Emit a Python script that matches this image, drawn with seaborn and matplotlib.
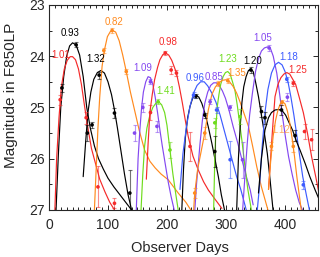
import numpy as np
import pandas as pd
import seaborn as sns
import matplotlib
matplotlib.use("Agg")
import matplotlib.pyplot as plt
from matplotlib.ticker import MultipleLocator

# fitted light curves (day, magnitude)
day_093 = [12, 16, 20, 25, 30, 35, 40, 46, 52, 58, 64, 70, 77, 84, 92, 100, 110, 120, 130, 140]
mag_093 = [27.0, 25.9, 25.0, 24.4, 24.0, 23.8, 23.74, 23.78, 23.98, 24.4, 25.0, 25.4, 25.75, 26.0, 26.2, 26.38, 26.55, 26.7, 26.85, 27.0]
day_101 = [10, 13, 17, 21, 26, 31, 36, 40, 45, 50, 55, 60, 66, 72, 79, 86, 95, 103, 111]
mag_101 = [27.0, 26.0, 25.2, 24.6, 24.25, 24.08, 24.01, 24.01, 24.07, 24.25, 24.55, 24.95, 25.4, 25.8, 26.1, 26.4, 26.65, 26.85, 27.0]
day_132 = [58, 62, 66, 71, 76, 82, 88, 94, 100, 106, 111, 116, 122, 128, 134, 140]
mag_132 = [26.35, 25.7, 25.1, 24.7, 24.45, 24.32, 24.28, 24.33, 24.5, 24.75, 25.05, 25.4, 25.85, 26.3, 26.7, 27.0]
day_082 = [77, 80, 83, 86, 90, 94, 99, 104, 108, 113, 119, 125, 131, 138, 145, 153, 162, 171, 180, 190, 202, 219, 232, 242]
mag_082 = [27.0, 26.2, 25.4, 24.8, 24.2, 23.88, 23.62, 23.52, 23.5, 23.53, 23.7, 23.98, 24.3, 24.7, 25.05, 25.45, 25.83, 26.05, 26.18, 26.3, 26.41, 26.67, 26.85, 27.03]
day_109 = [148, 151, 154, 157, 160, 164, 168, 172, 176, 180, 184, 188, 192, 197, 202, 207, 213]
mag_109 = [27.0, 26.0, 25.44, 25.0, 24.7, 24.5, 24.4, 24.42, 24.55, 24.8, 25.1, 25.44, 25.75, 26.1, 26.45, 26.74, 27.04]
day_141 = [156, 159, 162, 166, 171, 176, 181, 186, 191, 196, 200, 205, 210, 215, 219]
mag_141 = [27.0, 26.3, 25.76, 25.4, 25.15, 25.0, 24.92, 24.89, 24.95, 25.1, 25.35, 25.83, 26.3, 26.7, 27.0]
day_098 = [165, 168, 171, 175, 179, 184, 188, 193, 198, 203, 208, 212, 216, 221, 226, 231, 236, 244, 253, 262, 270, 282, 293]
mag_098 = [26.4, 25.7, 25.1, 24.75, 24.46, 24.22, 24.07, 23.97, 23.94, 23.98, 24.08, 24.2, 24.33, 24.6, 24.91, 25.25, 25.57, 25.95, 26.22, 26.45, 26.61, 26.8, 26.97]
day_k249 = [225, 228, 231, 235, 239, 244, 249, 254, 259, 264, 270, 276, 282, 287, 292, 298]
mag_k249 = [27.03, 26.2, 25.6, 25.2, 24.98, 24.8, 24.76, 24.8, 24.92, 25.1, 25.38, 25.7, 26.05, 26.35, 26.7, 27.03]
day_096 = [222, 227, 233, 239, 245, 251, 257, 263, 269, 276, 283, 290, 297, 304, 311, 318, 325, 335]
mag_096 = [26.6, 25.9, 25.37, 24.98, 24.72, 24.57, 24.5, 24.5, 24.58, 24.72, 24.9, 25.15, 25.45, 25.75, 26.05, 26.35, 26.6, 27.03]
day_085 = [247, 250, 253, 256, 260, 264, 269, 274, 279, 284, 289, 294, 299, 305, 312, 320, 327, 334, 341, 346]
mag_085 = [27.03, 26.5, 26.1, 25.7, 25.25, 24.92, 24.7, 24.57, 24.52, 24.52, 24.58, 24.68, 24.82, 25.05, 25.37, 25.7, 26.02, 26.33, 26.61, 26.9]
day_123 = [279, 281, 283, 285, 288, 291, 295, 299, 303, 307, 311, 315, 319, 323, 327, 332, 337, 343]
mag_123 = [27.03, 26.0, 25.4, 25.0, 24.75, 24.55, 24.4, 24.32, 24.3, 24.35, 24.5, 24.66, 24.95, 25.3, 25.65, 26.15, 26.6, 27.0]
day_135 = [245, 247, 252, 258, 264, 270, 276, 282, 288, 294, 300, 306, 312, 318, 324, 330, 338, 345, 352, 360, 372]
mag_135 = [27.03, 26.67, 26.2, 25.85, 25.5, 25.05, 24.75, 24.6, 24.52, 24.47, 24.46, 24.5, 24.59, 24.72, 24.9, 25.1, 25.37, 25.75, 26.15, 26.55, 27.04]
day_120 = [318, 321, 324, 327, 330, 334, 338, 342, 346, 350, 355, 360, 365, 370, 375, 380]
mag_120 = [27.03, 26.0, 25.37, 24.9, 24.6, 24.4, 24.28, 24.25, 24.3, 24.5, 24.79, 25.15, 25.5, 25.9, 26.45, 27.04]
day_105 = [328, 332, 336, 340, 345, 350, 355, 360, 365, 370, 375, 380, 386, 391, 396, 401, 406, 412, 418, 424, 431]
mag_105 = [27.03, 26.35, 25.7, 25.15, 24.7, 24.3, 24.05, 23.9, 23.84, 23.82, 23.84, 24.0, 24.33, 24.75, 25.2, 25.6, 25.96, 26.3, 26.61, 26.85, 27.04]
day_118 = [353, 357, 361, 366, 371, 377, 383, 389, 395, 400, 405, 410, 415, 420, 425, 430, 436, 442]
mag_118 = [27.0, 26.5, 25.8, 25.1, 24.65, 24.33, 24.17, 24.12, 24.17, 24.3, 24.5, 24.8, 25.15, 25.55, 25.96, 26.35, 26.7, 27.04]
day_125 = [372, 375, 379, 383, 388, 393, 398, 403, 408, 413, 418, 424, 431, 438, 445, 452, 458]
mag_125 = [26.6, 26.09, 25.4, 24.79, 24.55, 24.42, 24.35, 24.32, 24.35, 24.45, 24.55, 24.8, 25.1, 25.5, 25.96, 26.35, 26.7]
day_k389 = [355, 360, 366, 372, 377, 383, 389, 395, 401, 407, 413, 419, 426, 434, 442, 451, 458]
mag_k389 = [26.67, 26.0, 25.44, 25.2, 25.1, 25.05, 25.04, 25.06, 25.15, 25.3, 25.45, 25.65, 25.85, 26.09, 26.35, 26.61, 26.8]
day_112 = [372, 376, 380, 384, 388, 392, 396, 400, 404, 408, 412, 416, 420, 424, 428]
mag_112 = [26.6, 26.0, 25.55, 25.25, 25.05, 24.93, 24.89, 24.93, 25.07, 25.3, 25.6, 25.95, 26.35, 26.7, 27.04]

# photometry points with errors
pt_sn = ['0.93', '0.93', '0.93', '0.93', '1.32', '1.32', '1.32',
         '1.01', '1.01', '1.01', '1.01',
         '0.82', '0.82', '0.82',
         '1.09', '1.09', '1.09', '1.09',
         '1.41', '1.41',
         '0.98', '0.98', '0.98', '0.98', '0.98',
         'k249', 'k249', 'k249',
         '0.96', '0.96', '0.96',
         '0.85', '0.85', '0.85',
         '1.23', '1.23',
         '1.35', '1.35', '1.35', '1.35',
         '1.20', '1.20', '1.20',
         '1.05', '1.05',
         '1.18', '1.18',
         '1.25', '1.25', '1.25',
         'k389', 'k389',
         '1.12', '1.12', '1.12']
pt_day = [22, 46, 65, 73, 85, 111, 137,
          19, 63, 83, 111,
          93, 107, 131,
          145, 159, 172, 183,
          185, 205,
          172, 197, 207, 216, 239,
          249, 264, 281,
          245, 284, 307,
          273, 307, 328,
          281, 324,
          247, 264, 287, 303,
          342, 360, 366,
          373, 404,
          403, 431,
          414, 433, 445,
          394, 417,
          377, 395, 414]
pt_mag = [24.62, 23.78, 25.5, 25.34, 24.37, 25.11, 26.67,
          24.85, 25.2, 26.55, 26.87,
          23.89, 23.5, 24.3,
          25.5, 25.0, 24.5, 25.37,
          24.89, 25.83,
          25.1, 23.94, 24.27, 24.33, 25.76,
          24.78, 25.15, 25.86,
          24.76, 25.05, 26.02,
          24.89, 25.0, 26.02,
          25.3, 25.18,
          26.67, 25.5, 24.54, 24.48,
          24.27, 25.08, 25.2,
          23.84, 24.8,
          24.45, 26.51,
          24.53, 25.47, 25.63,
          25.05, 25.55,
          25.76, 24.9, 25.76]
pt_err = [0.08, 0.05, 0.15, 0.06, 0.07, 0.1, 0.44,
          0.1, 0.12, 0.4, 0.1,
          0.05, 0.04, 0.05,
          0.15, 0.08, 0.05, 0.1,
          0.05, 0.15,
          0.15, 0.04, 0.08, 0.06, 0.29,
          0.04, 0.05, 0.3,
          0.06, 0.05, 0.36,
          0.05, 0.05, 0.35,
          0.1, 0.15,
          0.1, 0.12, 0.05, 0.05,
          0.05, 0.1, 0.12,
          0.05, 0.08,
          0.05, 0.08,
          0.05, 0.15, 0.2,
          0.1, 0.1,
          0.08, 0.05, 0.1]

curves = {
    '0.93': (day_093, mag_093), '1.01': (day_101, mag_101), '1.32': (day_132, mag_132),
    '0.82': (day_082, mag_082), '1.09': (day_109, mag_109), '1.41': (day_141, mag_141),
    '0.98': (day_098, mag_098), 'k249': (day_k249, mag_k249), '0.96': (day_096, mag_096),
    '0.85': (day_085, mag_085), '1.23': (day_123, mag_123), '1.35': (day_135, mag_135),
    '1.20': (day_120, mag_120), '1.05': (day_105, mag_105), '1.18': (day_118, mag_118),
    '1.25': (day_125, mag_125), 'k389': (day_k389, mag_k389), '1.12': (day_112, mag_112),
}

RED, BLACK, ORANGE = '#f52a2a', '#000000', '#ff8a1e'
PURPLE, BLUE, GREEN = '#8448f0', '#3d5cff', '#6fdc1e'
colors = {'0.93': BLACK, '1.01': RED, '1.32': BLACK, '0.82': ORANGE, '1.09': PURPLE,
          '1.41': GREEN, '0.98': RED, 'k249': BLACK, '0.96': BLUE, '0.85': PURPLE,
          '1.23': GREEN, '1.35': ORANGE, '1.20': BLACK, '1.05': PURPLE, '1.18': BLUE,
          '1.25': RED, 'k389': BLACK, '1.12': ORANGE}
# label offsets from the curve peak, in points
offsets = {'0.93': (-2, 7), '1.01': (-7, 1.5), '1.32': (-4, 8), '0.82': (1, 6),
           '1.09': (-4, 6), '1.41': (5, 8), '0.98': (1.5, 8), '0.96': (-4, 3),
           '0.85': (0, 4), '1.23': (0, 9), '1.35': (8, 5), '1.20': (1, 6),
           '1.05': (-3, 6.5), '1.18': (7, 4), '1.25': (8, 1.5), '1.12': (-1.5, -20)}

sns.set_style("ticks")
plt.rcParams['font.family'] = ['Liberation Sans', 'DejaVu Sans']

rows = []
for sn, (d, m) in curves.items():
    for x, y in zip(d, m):
        rows.append((sn, x, y))
curve_df = pd.DataFrame(rows, columns=['sn', 'day', 'mag'])
pt_df = pd.DataFrame({'sn': pt_sn, 'day': pt_day, 'mag': pt_mag, 'err': pt_err})

fig = plt.figure(figsize=(3.2, 2.57), dpi=100)
ax = fig.add_axes([0.153, 0.183, 0.841, 0.798])

sns.lineplot(data=curve_df, x='day', y='mag', hue='sn', palette=colors, sort=False,
             estimator=None, legend=False, linewidth=0.85, ax=ax)
for sn, grp in pt_df.groupby('sn'):
    ax.errorbar(grp['day'], grp['mag'], yerr=grp['err'], fmt='none', ecolor=colors[sn],
                alpha=0.55, elinewidth=0.8, capsize=1.6, capthick=0.8)
sns.scatterplot(data=pt_df, x='day', y='mag', hue='sn', palette=colors, s=7,
                linewidth=0, legend=False, ax=ax, zorder=3)

for sn, (d, m) in curves.items():
    if sn not in offsets:
        continue
    i = int(np.argmin(m))
    ax.annotate(sn, xy=(d[i], m[i]), xytext=offsets[sn], textcoords='offset points',
                ha='center', va='center', fontsize=7, color=colors[sn],
                alpha=0.7 if sn == '1.12' else 1)

ax.set_xlim(0, 456)
ax.set_ylim(27, 23)
ax.xaxis.set_major_locator(MultipleLocator(100))
ax.xaxis.set_minor_locator(MultipleLocator(10))
ax.yaxis.set_major_locator(MultipleLocator(1))
ax.yaxis.set_minor_locator(MultipleLocator(0.5))
ax.tick_params(which='both', direction='in', top=True, right=True, width=0.7)
ax.tick_params(which='major', length=3.5, labelsize=10)
ax.tick_params(axis='x', which='major', pad=6)
ax.tick_params(axis='y', which='major', pad=3)
ax.tick_params(which='minor', length=2)
for s in ax.spines.values():
    s.set_linewidth(0.8)

ax.set_xlabel('Observer Days', fontsize=10.5)
ax.set_ylabel('Magnitude in F850LP', fontsize=11)
ax.xaxis.set_label_coords(0.487, -0.15)
ax.yaxis.set_label_coords(-0.115, 0.56)

fig.savefig('out.png', dpi=100)
